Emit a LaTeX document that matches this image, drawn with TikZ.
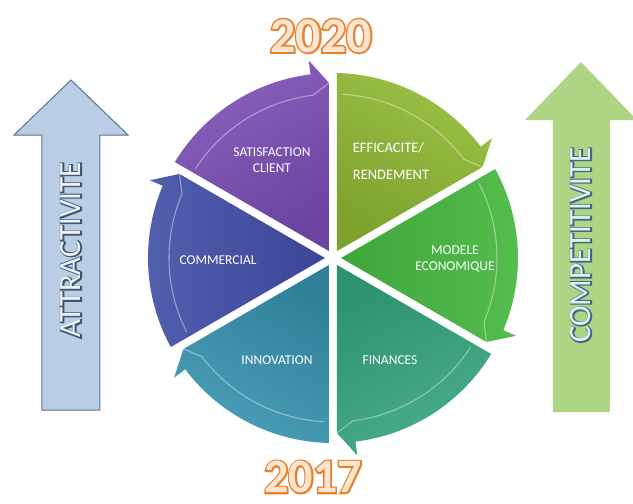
\documentclass[tikz,border=0pt]{standalone}
\usepackage{fontspec}
\setmainfont{Carlito}
\newfontfamily\labelfont{Carlito}
\newfontfamily\strokefont{Carlito}[FakeBold=7]
\newfontfamily\yearstroke{Carlito Bold}[FakeBold=7]
\newfontfamily\yearfill{Carlito Bold}
\usetikzlibrary{calc}
\definecolor{purO}{HTML}{8A62BC}\definecolor{purI}{HTML}{6B43A0}
\definecolor{oliO}{HTML}{9CC146}\definecolor{oliI}{HTML}{7DA22E}
\definecolor{grnO}{HTML}{55BE4E}\definecolor{grnI}{HTML}{3FA53C}
\definecolor{tgO}{HTML}{48AE88}\definecolor{tgI}{HTML}{2F9270}
\definecolor{tealO}{HTML}{4B9FB9}\definecolor{tealI}{HTML}{2F7F98}
\definecolor{bluO}{HTML}{5260AE}\definecolor{bluI}{HTML}{3B4596}
\definecolor{larrowfill}{HTML}{B9CDE5}\definecolor{larrowline}{HTML}{5A7494}
\definecolor{rarrowfill}{HTML}{ADD584}
\definecolor{yearline}{HTML}{E8812E}\definecolor{yearin}{HTML}{FCE6D2}
\definecolor{attrline}{HTML}{3F5670}\definecolor{attrin}{HTML}{EEF3F8}
\definecolor{compline}{HTML}{3E6A80}\definecolor{compin}{HTML}{E6F0F4}
\tikzset{
  seglabel/.style={text=white, font=\labelfont\fontsize{13.5}{16}\selectfont, align=center, inner sep=0pt},
  leftarrow/.style={fill=larrowfill, draw=larrowline, line width=1pt},
  rightarrow/.style={fill=rarrowfill},
  bigtext/.style={rotate=90, inner sep=0pt},
  yeartext/.style={inner sep=0pt},
}
\begin{document}
\begin{tikzpicture}[x=1pt,y=1pt]
\useasboundingbox (-333,-246) rectangle (300,258);
% side arrows
\path[leftarrow] (-291,-152) -- (-291,123) -- (-319,123) -- (-262,178) -- (-205,123) -- (-233,123) -- (-233,-152) -- cycle;
\path[rightarrow] (220,-154) -- (220,138) -- (192,138) -- (248,196) -- (304,138) -- (277,138) -- (277,-154) -- cycle;
% sectors
\def\R{185}
\foreach \a/\co/\ci in {150/purO/purI, 90/oliO/oliI, 30/grnO/grnI, -30/tgO/tgI, -90/tealO/tealI, -150/bluO/bluI} {
  \pgfmathsetmacro\b{\a-60}
  \pgfmathsetmacro\m{\a-30}
  \pgfmathsetmacro\sa{\m-90}
  \pgfmathsetmacro\st{\a-1.24}
  \pgfmathsetmacro\en{\b+7}
  \pgfmathsetmacro\hs{\a-3}
  \path[top color=\co, bottom color=\ci, shading angle=\sa]
    (\m:8) -- (\st:\R) arc[start angle=\st, end angle=\en, radius=\R]
    -- (\en:\R+14) -- ($(\b:\R-10)+(\b+90:4)$) -- cycle;
  \draw[white, opacity=0.4, line width=1.1pt]
    (\hs:\R-21) arc[start angle=\hs, end angle=\en, radius=\R-21]
    -- ($(\b:\R-10)+(\b+90:4)$);
}
% sector labels
\node[seglabel] (satis) at (-61,98) {SATISFACTION\\CLIENT};
\node[seglabel, align=left, font=\labelfont\fontsize{14.5}{27}\selectfont] (effic) at (58,97) {EFFICACITE/\\RENDEMENT};
\node[seglabel] (modele) at (122,-1) {MODELE\\ECONOMIQUE};
\node[seglabel] (fin) at (57,-102) {FINANCES};
\node[seglabel] (innov) at (-56,-102) {INNOVATION};
\node[seglabel] (comm) at (-115,-2) {COMMERCIAL};
% arrow texts
\node[bigtext, text=attrline, font=\strokefont\fontsize{31}{31}\selectfont] (attrS) at (-262,8) {ATTRACTIVITE};
\node[bigtext, text=attrin, font=\labelfont\fontsize{31}{31}\selectfont] (attr) at (-262,8) {ATTRACTIVITE};
\node[bigtext, text=compline, font=\strokefont\fontsize{31}{31}\selectfont] (compS) at (248,13) {COMPETITIVITE};
\node[bigtext, text=compin, font=\labelfont\fontsize{31}{31}\selectfont] (comp) at (248,13) {COMPETITIVITE};
% years
\node[yeartext, text=yearline, font=\yearstroke\fontsize{50}{50}\selectfont] (y20S) at (-12,222) {2020};
\node[yeartext, text=yearin, font=\yearfill\fontsize{50}{50}\selectfont] (y20) at (-12,222) {2020};
\node[yeartext, text=yearline, font=\yearstroke\fontsize{48}{48}\selectfont] (y17S) at (-20,-219) {2017};
\node[yeartext, text=yearin, font=\yearfill\fontsize{48}{48}\selectfont] (y17) at (-20,-219) {2017};
\end{tikzpicture}
\end{document}
